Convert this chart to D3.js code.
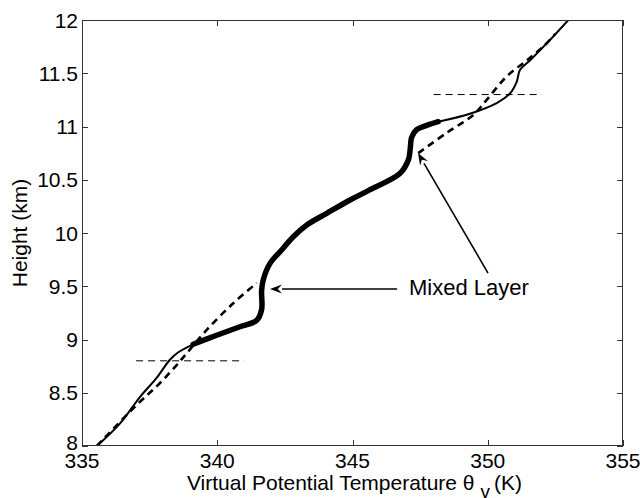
<!DOCTYPE html>
<html><head><meta charset="utf-8">
<script src="https://cdn.jsdelivr.net/npm/d3@7"></script>
<style>body{margin:0;background:#fff}svg{display:block}text{font-family:"Liberation Sans",Arial,sans-serif;fill:#000}</style>
</head><body><svg id="c" width="640" height="498"></svg>
<script>
const xTicks = [335, 340, 345, 350, 355];
const yTicks = [8, 8.5, 9, 9.5, 10, 10.5, 11, 11.5, 12];
const solidThinLow = [[335.55,8],[336.4,8.21],[337.14,8.46],[337.76,8.64],[338.25,8.81],[338.56,8.88],[339.11,8.955]];
const solidThick = [[339.11,8.955],[339.98,9.04],[340.84,9.12],[341.46,9.18],[341.64,9.28],[341.64,9.46],[341.7,9.56],[341.95,9.715],[342.38,9.84],[342.81,9.965],[343.31,10.075],[344.05,10.185],[344.91,10.31],[345.6,10.4],[346.76,10.56],[347.07,10.69],[347.13,10.78],[347.19,10.9],[347.37,10.97],[347.74,11.01],[348.17,11.045]];
const solidThinHigh = [[348.17,11.045],[349.34,11.12],[350.33,11.22],[350.82,11.31],[351.07,11.42],[351.19,11.53],[351.56,11.62],[352.18,11.78],[352.98,12.0]];
const fitLow = [[335.55,8],[337.02,8.385],[337.88,8.59],[338.5,8.76],[338.87,8.87],[339.61,9.09],[340.59,9.34],[341.46,9.53]];
const fitHigh = [[347.43,10.75],[348.48,10.94],[349.47,11.11],[349.96,11.25],[350.7,11.47],[351.44,11.62],[352.05,11.75],[352.5,11.87]];
const levels = [{y:8.8, x0:337.0, x1:341.0},{y:11.3, x0:348.0, x1:352.0}];
const arrows = [{x0:346.65,y0:9.474,x1:341.95,y1:9.474},{x0:350.01,y0:9.624,x1:347.42,y1:10.751}];
const label = {x:347.09, y:9.418, text:"Mixed Layer"};

const L=82,R=623,T=20,B=446;
const svg=d3.select("#c");
const x=d3.scaleLinear().domain([335,355]).range([L,R]);
const y=d3.scaleLinear().domain([8,12]).range([B,T]);
const fs=21;

svg.append("defs").append("clipPath").attr("id","clip").append("rect").attr("x",L).attr("y",T).attr("width",R-L).attr("height",B-T);
const g=svg.append("g").attr("clip-path","url(#clip)");
const line=d3.line().x(d=>x(d[0])).y(d=>y(d[1])).curve(d3.curveCatmullRom.alpha(0.5));

g.append("path").attr("d",line(fitLow)).attr("fill","none").attr("stroke","#000").attr("stroke-width",2.6).attr("stroke-dasharray","7,5");
g.append("path").attr("d",line(fitHigh)).attr("fill","none").attr("stroke","#000").attr("stroke-width",2.6).attr("stroke-dasharray","7,5");
g.append("path").attr("d",line(solidThinLow)).attr("fill","none").attr("stroke","#000").attr("stroke-width",2);
g.append("path").attr("d",line(solidThinHigh)).attr("fill","none").attr("stroke","#000").attr("stroke-width",2);
g.append("path").attr("d",line(solidThick)).attr("fill","none").attr("stroke","#000").attr("stroke-width",5.5).attr("stroke-linecap","round").attr("stroke-linejoin","round");
levels.forEach(l=>{
  g.append("line").attr("x1",x(l.x0)).attr("x2",x(l.x1)).attr("y1",y(l.y)).attr("y2",y(l.y)).attr("stroke","#000").attr("stroke-width",1).attr("stroke-dasharray","7,5");
});

// axes box
const ax=svg.append("g");
ax.append("rect").attr("x",L+0.5).attr("y",T+0.5).attr("width",R-L-1).attr("height",B-T-1).attr("fill","none").attr("stroke","#333").attr("stroke-width",1);
const tl=6;
xTicks.forEach(t=>{
  const px=Math.round(x(t))+0.5;
  ax.append("line").attr("x1",px).attr("x2",px).attr("y1",B).attr("y2",B-tl).attr("stroke","#333");
  ax.append("line").attr("x1",px).attr("x2",px).attr("y1",T).attr("y2",T+tl).attr("stroke","#333");
  ax.append("text").attr("x",x(t)).attr("y",B+22).attr("text-anchor","middle").attr("font-size",fs).text(t);
});
yTicks.forEach(t=>{
  const py=Math.round(y(t))+0.5;
  ax.append("line").attr("x1",L).attr("x2",L+tl).attr("y1",py).attr("y2",py).attr("stroke","#333");
  ax.append("line").attr("x1",R).attr("x2",R-tl).attr("y1",py).attr("y2",py).attr("stroke","#333");
  ax.append("text").attr("x",L-4).attr("y",t===8?y(t)-4:y(t)).attr("dy","0.36em").attr("text-anchor","end").attr("font-size",fs).text(t);
});

// x label
const xl=ax.append("text").attr("x",(L+R)/2+2).attr("y",490).attr("text-anchor","middle").attr("font-size",fs);
xl.append("tspan").text("Virtual Potential Temperature θ");
xl.append("tspan").attr("dx",6).attr("dy",8).attr("font-size",fs*0.9).text("v");
xl.append("tspan").attr("dx",4).attr("dy",-8).text("(K)");
ax.append("text").attr("transform","translate(27,233) rotate(-90)").attr("text-anchor","middle").attr("font-size",fs).text("Height (km)");

// annotation arrows
arrows.forEach(a=>{
  const x0=x(a.x0),y0=y(a.y0),x1=x(a.x1),y1=y(a.y1);
  const ang=Math.atan2(y1-y0,x1-x0);
  const hl=12,hw=4.5;
  const bx=x1-hl*Math.cos(ang),by=y1-hl*Math.sin(ang);
  svg.append("line").attr("x1",x0).attr("y1",y0).attr("x2",bx).attr("y2",by).attr("stroke","#000").attr("stroke-width",1.6);
  const p=[[x1,y1],[bx+hw*Math.sin(ang),by-hw*Math.cos(ang)],[bx+0.35*hl*Math.cos(ang),by+0.35*hl*Math.sin(ang)],[bx-hw*Math.sin(ang),by+hw*Math.cos(ang)]];
  svg.append("path").attr("d","M"+p.map(q=>q.join(",")).join("L")+"Z").attr("fill","#000");
});
svg.append("text").attr("x",x(label.x)).attr("y",y(label.y)).attr("font-size",fs+1).text(label.text);
</script></body></html>
